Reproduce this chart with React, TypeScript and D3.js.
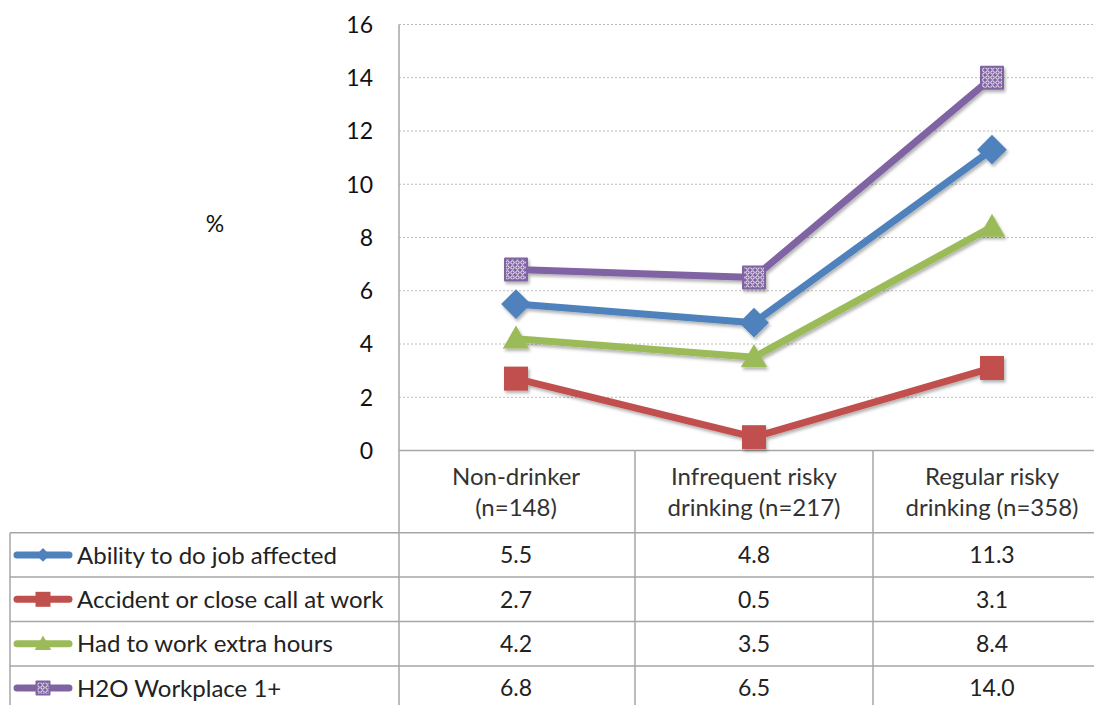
import React from "react";
import * as d3 from "d3";

const categories = ["Non-drinker|(n=148)", "Infrequent risky|drinking (n=217)", "Regular risky|drinking (n=358)"];
const seriesNames = ["Ability to do job affected", "Accident or close call at work", "Had to work extra hours", "H2O Workplace 1+"];
const ability = [5.5, 4.8, 11.3];
const accident = [2.7, 0.5, 3.1];
const extraHours = [4.2, 3.5, 8.4];
const h2o = [6.8, 6.5, 14.0];
const yTicks = [0, 2, 4, 6, 8, 10, 12, 14, 16];
const colors = ["#4F81BD", "#C0504D", "#9BBB59", "#8064A2"];
const markers = ["diamond", "square", "triangle", "pattern"];

const FONT = "Lato, 'Open Sans', sans-serif";
const FS = 24;

function Marker({ kind, color, x, y, s }: { kind: string; color: string; x: number; y: number; s: number }) {
  if (kind === "diamond") {
    const r = s * 0.62;
    return <path d={`M${x},${y - r}L${x + r},${y}L${x},${y + r}L${x - r},${y}Z`} fill={color} />;
  }
  if (kind === "triangle") {
    const r = s * 0.55;
    return <path d={`M${x},${y - r}L${x + r},${y + r * 0.75}L${x - r},${y + r * 0.75}Z`} fill={color} />;
  }
  const h = s / 2;
  if (kind === "pattern") {
    return (
      <g>
        <rect x={x - h} y={y - h} width={s} height={s} fill={color} rx={1} />
        <rect x={x - h + 2} y={y - h + 2} width={s - 4} height={s - 4} fill="url(#lattice)" />
      </g>
    );
  }
  return <rect x={x - h} y={y - h} width={s} height={s} fill={color} />;
}

export default function App() {
  const width = 1094;
  const height = 705;
  const data = [ability, accident, extraHours, h2o];

  const x = d3.scaleBand<number>().domain([0, 1, 2]).range([397, 1111]);
  const y = d3.scaleLinear().domain([0, 16]).range([450.5, 24.5]);
  const cx = (i: number) => (x(i) as number) + x.bandwidth() / 2;

  const line = d3
    .line<number>()
    .x((_, i) => cx(i))
    .y((d) => y(d));

  const tableLeft = 10;
  const legendRight = 399;
  const headerBottom = 532.7;
  const rowH = 44.4;
  const grid = "#A6A6A6";

  return (
    <svg
      width={width}
      height={height}
      style={{ position: "absolute", left: 0, top: 0, background: "#fff" }}
      fontFamily={FONT}
    >
      <defs>
        <filter id="shadow" x="-20%" y="-20%" width="140%" height="160%">
          <feDropShadow dx="1.5" dy="2.5" stdDeviation="1.8" floodColor="#000" floodOpacity="0.3" />
        </filter>
        <pattern id="lattice" width="5" height="5" patternUnits="userSpaceOnUse">
          <circle cx="2.5" cy="2.5" r="1.7" fill="none" stroke="#fff" strokeWidth="0.9" />
        </pattern>
      </defs>

      {/* gridlines */}
      {yTicks.filter((t) => t > 0).map((t) => (
        <line key={t} x1={legendRight} x2={width} y1={y(t)} y2={y(t)} stroke="#B8B8B8" strokeDasharray="2,2" strokeWidth={1} />
      ))}

      {/* y tick labels */}
      {yTicks.map((t) => (
        <text key={t} x={373} y={y(t)} dy="0.36em" textAnchor="end" fontSize={FS - 1} fill="#111">
          {t}
        </text>
      ))}
      <text x={215} y={224} dy="0.36em" textAnchor="middle" fontSize={FS - 1} fill="#111">%</text>

      {/* table */}
      <g stroke={grid} strokeWidth={1.5}>
        <line x1={legendRight} x2={width} y1={y(0)} y2={y(0)} />
        <line x1={legendRight} x2={legendRight} y1={y(16)} y2={height} />
        {[1, 2].map((i) => (
          <line key={i} x1={x(i)} x2={x(i)} y1={y(0)} y2={height} />
        ))}
        <line x1={tableLeft} x2={tableLeft} y1={headerBottom} y2={height} />
        {[0, 1, 2, 3].map((r) => (
          <line key={r} x1={tableLeft} x2={width} y1={headerBottom + r * rowH} y2={headerBottom + r * rowH} />
        ))}
      </g>

      {categories.map((c, i) => {
        const [l1, l2] = c.split("|");
        return (
          <text key={i} x={cx(i)} textAnchor="middle" fontSize={FS} fill="#333">
            <tspan x={cx(i)} y={485}>{l1}</tspan>
            <tspan x={cx(i)} y={516}>{l2}</tspan>
          </text>
        );
      })}

      {seriesNames.map((name, s) => {
        const rowMid = headerBottom + s * rowH + rowH / 2;
        return (
          <g key={name}>
            <line x1={17} x2={69} y1={rowMid} y2={rowMid} stroke={colors[s]} strokeWidth={7} strokeLinecap="round" />
            <Marker kind={markers[s]} color={colors[s]} x={43} y={rowMid} s={s === 0 ? 11 : 15} />
            <text x={77} y={rowMid} dy="0.36em" fontSize={FS} fill="#222">{name}</text>
            {data[s].map((v, i) => (
              <text key={i} x={cx(i)} y={rowMid} dy="0.36em" textAnchor="middle" fontSize={FS - 1} fill="#222">
                {v.toFixed(1)}
              </text>
            ))}
          </g>
        );
      })}

      {/* series */}
      {data.map((vals, s) => (
        <g key={s} filter="url(#shadow)">
          <path d={line(vals) || ""} fill="none" stroke={colors[s]} strokeWidth={7} strokeLinejoin="round" />
          {vals.map((v, i) => (
            <Marker key={i} kind={markers[s]} color={colors[s]} x={cx(i)} y={y(v)} s={24} />
          ))}
        </g>
      ))}
    </svg>
  );
}
